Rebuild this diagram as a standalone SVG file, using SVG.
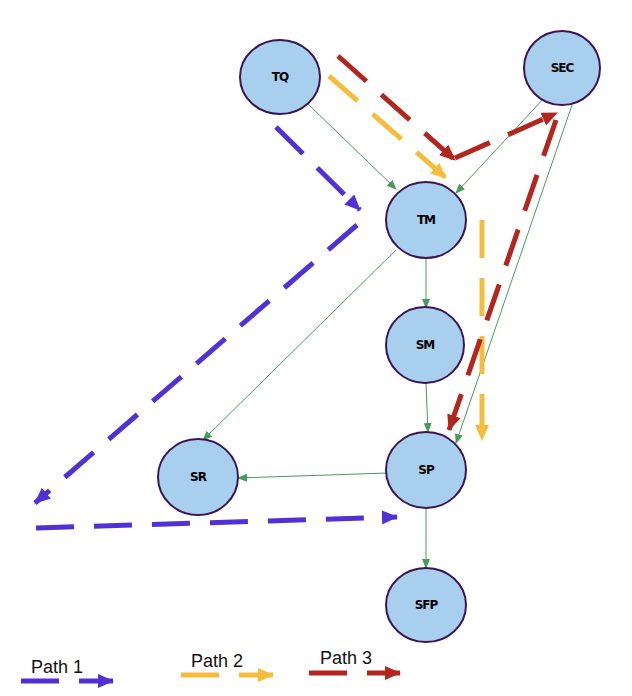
<svg xmlns="http://www.w3.org/2000/svg" width="632" height="696" viewBox="0 0 632 696">
<style>
.n{fill:#a9cfee;stroke:#3b1454;stroke-width:2}
.t{font-family:"DejaVu Sans",sans-serif;font-weight:bold;font-size:12px;text-anchor:middle;dominant-baseline:central;letter-spacing:-1px}
.g{stroke:#4a9a5c;stroke-width:1;fill:none;marker-end:url(#ag)}
.p{stroke-width:5;fill:none;stroke-dasharray:38 20}
.p1{stroke:#5131d6;marker-end:url(#a1)}
.p2{stroke:#f6bd3c;marker-end:url(#a2)}
.p3{stroke:#b3261d;marker-end:url(#a3)}
.l{font-family:"Liberation Sans",sans-serif;font-size:18px;fill:#111}
</style>
<defs>
<marker id="ag" markerWidth="10" markerHeight="8" refX="9" refY="4" orient="auto" markerUnits="userSpaceOnUse"><path d="M0,0L10,4L0,8z" fill="#4a9a5c"/></marker>
<marker id="a1" markerWidth="16" markerHeight="14" refX="15" refY="7" orient="auto" markerUnits="userSpaceOnUse"><path d="M0,0L16,7L0,14z" fill="#5131d6"/></marker>
<marker id="a2" markerWidth="16" markerHeight="14" refX="15" refY="7" orient="auto" markerUnits="userSpaceOnUse"><path d="M0,0L16,7L0,14z" fill="#f6bd3c"/></marker>
<marker id="a3" markerWidth="16" markerHeight="14" refX="15" refY="7" orient="auto" markerUnits="userSpaceOnUse"><path d="M0,0L16,7L0,14z" fill="#b3261d"/></marker>
</defs>
<g id="connectors">
<line class="g" x1="308" y1="104" x2="396" y2="189"/>
<line class="g" x1="545" y1="97" x2="456" y2="193"/>
<line class="g" x1="426" y1="258" x2="426" y2="308"/>
<line class="g" x1="396" y1="250" x2="203" y2="440"/>
<line class="g" x1="426" y1="383" x2="428" y2="432"/>
<line class="g" x1="572" y1="105" x2="456" y2="443"/>
<line class="g" x1="388" y1="473" x2="238" y2="478"/>
<line class="g" x1="426" y1="508" x2="426" y2="568"/>
</g>
<g id="paths">
<path class="p p1" d="M276,127L360,210"/>
<path class="p p1" d="M357,225L35,503"/>
<path class="p p1" d="M36,528L397,517"/>
<path class="p p2" d="M329,76L446,178"/>
<path class="p p2" d="M482,220L482,440"/>
<path class="p p3" d="M338,56L455,160"/>
<path class="p p3" d="M455,158L557,113"/>
<path class="p p3" d="M556,120L449,430"/>
</g>
<g id="TQ"><ellipse class="n" cx="280" cy="77" rx="40" ry="37"/><text class="t" x="280" y="77">TQ</text></g>
<g id="SEC"><ellipse class="n" cx="562" cy="68" rx="38" ry="37"/><text class="t" x="562" y="68">SEC</text></g>
<g id="TM"><ellipse class="n" cx="426" cy="220" rx="40" ry="38"/><text class="t" x="426" y="220">TM</text></g>
<g id="SM"><ellipse class="n" cx="425" cy="345" rx="39" ry="38"/><text class="t" x="425" y="345">SM</text></g>
<g id="SP"><ellipse class="n" cx="426" cy="470" rx="40" ry="38"/><text class="t" x="426" y="470">SP</text></g>
<g id="SR"><ellipse class="n" cx="198" cy="477" rx="40" ry="38"/><text class="t" x="198" y="477">SR</text></g>
<g id="SFP"><ellipse class="n" cx="426" cy="605" rx="40" ry="37"/><text class="t" x="426" y="605">SFP</text></g>
<g id="legend">
<text class="l" x="31" y="673">Path 1</text>
<path class="p p1" d="M21,681L113,681"/>
<text class="l" x="191" y="667">Path 2</text>
<path class="p p2" d="M181,675L273,675"/>
<text class="l" x="320" y="664">Path 3</text>
<path class="p p3" d="M309,673L400,673"/>
</g>
</svg>
